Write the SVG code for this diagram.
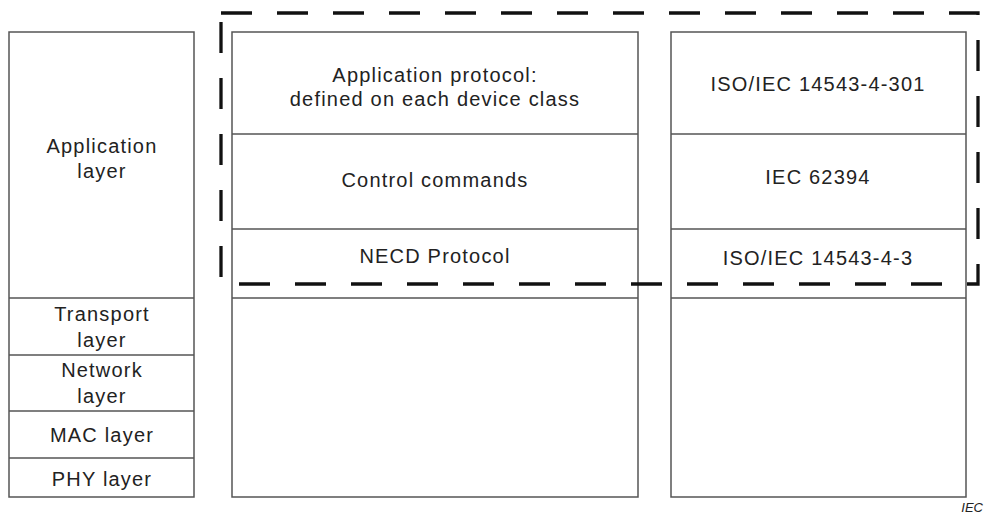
<svg xmlns="http://www.w3.org/2000/svg" width="985" height="515" viewBox="0 0 985 515">
<style>
.box{fill:#fff;stroke:#555;stroke-width:1.5}
.div{stroke:#555;stroke-width:1.5}
text{font-family:"Liberation Sans",Arial,sans-serif;font-size:20px;fill:#222;text-anchor:middle;letter-spacing:1.2px}
.dash{fill:none;stroke:#111;stroke-width:3.3;stroke-dasharray:31 25}
</style>
<rect width="985" height="515" fill="#fff"/>
<g id="left-stack">
<rect class="box" x="9" y="32" width="185" height="465"/>
<line class="div" x1="9" y1="298" x2="194" y2="298"/>
<line class="div" x1="9" y1="355" x2="194" y2="355"/>
<line class="div" x1="9" y1="411" x2="194" y2="411"/>
<line class="div" x1="9" y1="458" x2="194" y2="458"/>
<text x="102" y="153">Application</text>
<text x="102" y="178">layer</text>
<text x="102" y="321">Transport</text>
<text x="102" y="347">layer</text>
<text x="102" y="377">Network</text>
<text x="102" y="403">layer</text>
<text x="102" y="442">MAC layer</text>
<text x="102" y="486">PHY layer</text>
</g>
<g id="middle-stack">
<rect class="box" x="232" y="32" width="406" height="465"/>
<line class="div" x1="232" y1="134" x2="638" y2="134"/>
<line class="div" x1="232" y1="229" x2="638" y2="229"/>
<line class="div" x1="232" y1="298" x2="638" y2="298"/>
<text x="435" y="82">Application protocol:</text>
<text x="435" y="106">defined on each device class</text>
<text x="435" y="187">Control commands</text>
<text x="435" y="263">NECD Protocol</text>
</g>
<g id="right-stack">
<rect class="box" x="671" y="32" width="295" height="465"/>
<line class="div" x1="671" y1="134" x2="966" y2="134"/>
<line class="div" x1="671" y1="229" x2="966" y2="229"/>
<line class="div" x1="671" y1="298" x2="966" y2="298"/>
<text x="818" y="91">ISO/IEC 14543-4-301</text>
<text x="818" y="184">IEC 62394</text>
<text x="818" y="265">ISO/IEC 14543-4-3</text>
</g>
<g id="connectors">
<path class="dash" d="M221,13 H978 V284 H238"/>
<path class="dash" d="M221,22 V280"/>
</g>
<text x="983" y="512" style="font-size:13px;font-style:italic;letter-spacing:0;text-anchor:end">IEC</text>
</svg>
